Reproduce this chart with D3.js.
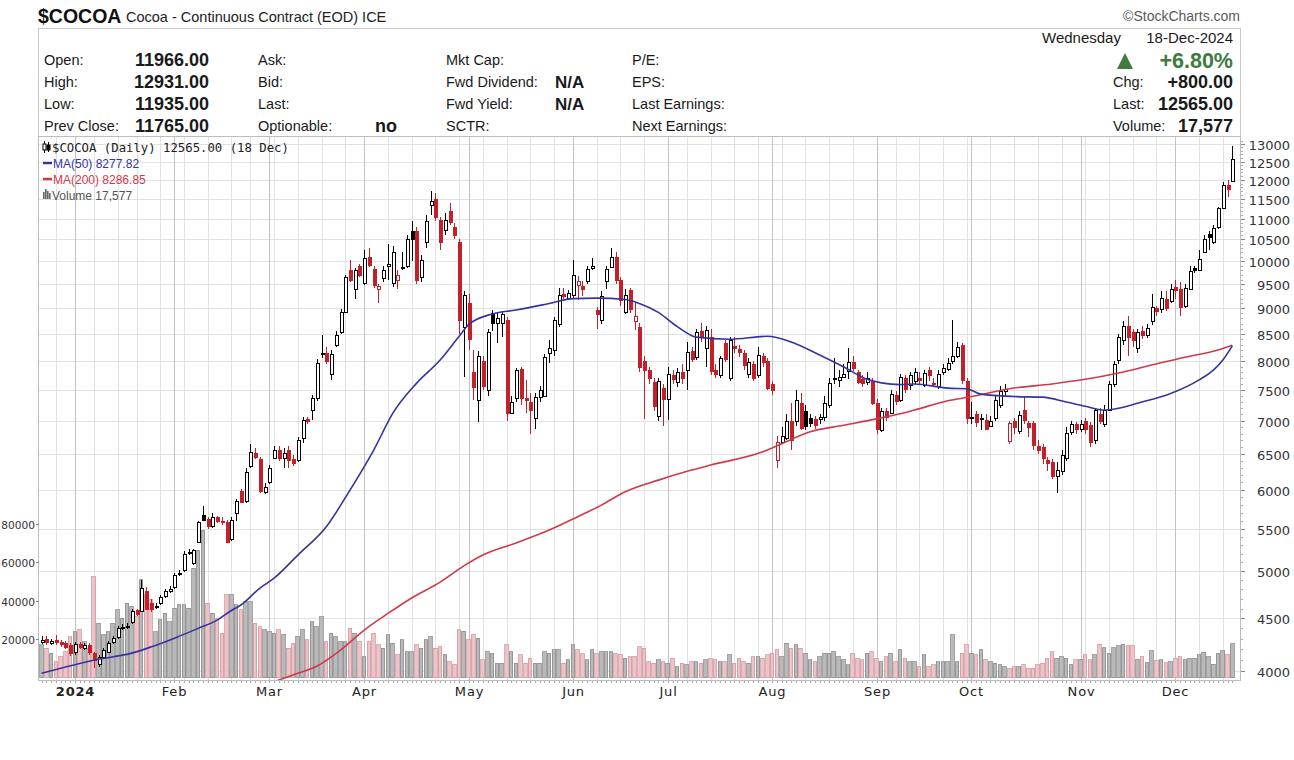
<!DOCTYPE html>
<html><head><meta charset="utf-8">
<script src="https://cdn.jsdelivr.net/npm/d3@7"></script>
<style>body{margin:0;background:#fff;}svg{display:block;}</style>
</head><body>
<svg id="chart" width="1294" height="760"></svg>
<script>
// ---- DATA ----
const opens = [4270,4300,4255,4290,4270,4260,4240,4170,4250,4210,
4240,4160,4060,4130,4170,4270,4320,4400,4410,4460,
4580,4570,4780,4660,4620,4660,4730,4780,4830,4970,
5010,5210,5090,5340,5670,5620,5530,5640,5600,5580,
5370,5700,5980,5850,6320,6520,6420,5970,6100,6440,
6560,6440,6560,6420,6410,6740,7030,7170,7360,8120,
8150,7780,8300,8540,8930,9800,9400,9900,9520,10100,
9830,9400,9630,9900,9530,9590,9850,9900,10700,10700,
9650,10440,11330,11500,10980,10720,11200,10800,10440,8630,
9100,7800,7330,8000,7500,8900,8720,8720,8770,7130,
7370,7860,7360,7300,7040,7380,7400,8140,8200,8700,
9300,9220,9270,9480,9470,9560,9850,8970,8770,9560,
9870,10100,9600,8930,9380,8750,8640,8000,7840,7640,
7080,7530,7350,7750,7630,7800,7840,8180,8070,8560,
8230,8450,7850,7760,8330,7700,8280,8220,8150,7780,
7950,7750,8100,8000,7600,6410,6680,6740,6990,6990,
7280,7150,7050,7030,7030,7060,7250,7700,7660,7720,
7820,7980,7800,7680,7630,7650,7280,6860,7150,7130,
7420,7330,7700,7580,7650,7700,7580,7850,7620,7560,
7800,7860,8000,8100,8300,7650,7050,7100,7040,7020,
6920,7040,7250,7480,6690,7000,6840,7170,6970,6970,
6620,6600,6410,6390,6190,6250,6440,6830,6950,6870,
6990,6930,6700,7100,6950,7170,7600,8020,8380,8650,
8530,8230,8560,8480,8750,9000,8980,9200,9150,9450,
9400,9050,9400,9850,9800,10220,10620,10450,10800,11270,
11850,11966];
const highs = [4330,4330,4300,4340,4290,4280,4260,4270,4270,4260,
4260,4170,4150,4210,4280,4330,4420,4440,4450,4590,
4600,4900,4830,4700,4660,4740,4800,4840,4980,5010,
5230,5260,5260,5600,5780,5650,5690,5660,5640,5610,
5640,5880,6010,6300,6640,6580,6460,6090,6340,6620,
6620,6580,6620,6480,6750,7060,7060,7420,8030,8480,
8250,8200,8560,8980,9700,10030,9850,9950,10250,10300,
9900,9500,9900,10400,10350,9800,10200,10600,10950,10800,
10150,11100,11700,11650,11050,11150,11400,10900,10500,9350,
9300,8200,8180,8100,8600,8960,8900,8950,8820,7400,
7880,7900,7670,7450,7450,7560,8120,8380,8820,9420,
9420,9380,10030,9680,9560,9900,10070,9030,9350,9900,
10300,10200,9650,9400,9420,9100,8720,8100,7900,7700,
7700,7600,7900,7850,7870,7950,8350,8250,8600,8720,
8650,8600,7950,8100,8380,8450,8450,8300,8200,8050,
8000,8250,8150,8050,7650,6760,6900,7100,7280,7500,
7450,7250,7100,7080,7100,7400,7700,8050,7850,7950,
8230,8100,7850,7750,7800,7700,7350,7200,7200,7500,
7480,7780,7750,7800,7870,7800,7850,7900,7700,7850,
7950,8050,8770,8350,8330,7700,7300,7150,7100,7100,
7080,7400,7560,7600,7000,7050,7150,7380,7000,7000,
6700,6650,6450,6420,6390,6550,6900,7000,6980,7020,
7050,6980,7200,7200,7250,7650,8000,8500,8750,8850,
8600,8600,8650,8700,9300,9050,9350,9350,9500,9600,
9550,9500,9900,9900,10250,10600,10700,10850,11300,11950,
12000,12931];
const lows = [4250,4240,4240,4240,4220,4200,4140,4150,4200,4190,
4150,4030,4040,4110,4160,4250,4300,4380,4390,4440,
4520,4560,4580,4560,4590,4640,4710,4760,4810,4950,
4990,5190,5070,5320,5590,5490,5510,5570,5540,5320,
5350,5600,5820,5830,6300,6420,5960,5940,6080,6420,
6400,6300,6300,6330,6380,6660,6950,7020,7320,8050,
7950,7660,8250,8500,8900,9550,9200,9650,9480,9880,
9420,9100,9550,9590,9450,9400,9800,9850,10000,9500,
9550,10300,11100,10950,10250,10600,10850,10500,8500,7720,
8200,7330,6980,7500,7400,8560,8330,8450,6990,7100,
7300,7250,7120,6800,6880,7300,7380,7960,8100,8630,
9200,9180,9220,9180,9250,9500,9800,8590,8700,9400,
9850,9500,9050,8880,8900,8580,7800,7030,7600,7150,
7000,6920,7020,7600,7550,7600,7500,7980,8020,8350,
7900,7760,7700,7700,7980,7650,8150,8080,7850,7700,
7650,7700,7900,7500,7420,6300,6650,6700,6560,6920,
6850,6850,6900,6870,6950,7000,7200,7600,7550,7700,
7680,7820,7600,7550,7580,7250,6800,6820,7000,7100,
7250,7300,7450,7500,7600,7600,7550,7650,7550,7520,
7750,7820,7950,8050,7600,6950,6950,6900,6850,6850,
6900,7000,7200,7400,6650,6800,6800,6950,6750,6550,
6500,6350,6250,6150,5960,6200,6400,6780,6800,6820,
6800,6600,6650,6950,6900,7150,7550,7950,8300,8100,
8250,8150,8400,8420,8680,8850,8900,8950,9100,9200,
8850,9000,9380,9750,9780,10180,10250,10400,10750,11250,
11550,11935];
const closes = [4290,4265,4280,4270,4250,4225,4160,4250,4225,4235,
4170,4100,4130,4190,4260,4310,4400,4415,4420,4570,
4545,4820,4600,4590,4630,4720,4780,4810,4960,4980,
5200,5225,5240,5580,5610,5530,5640,5600,5580,5340,
5610,5850,5840,6240,6530,6450,5980,6040,6300,6560,
6440,6510,6410,6370,6700,7010,7000,7360,7970,8150,
8000,8130,8490,8930,9650,9590,9800,9700,10080,9920,
9480,9460,9800,9950,10200,9700,9880,10500,10520,9600,
10030,10950,11450,11050,10450,10960,10920,10600,8770,9270,
8400,7550,8090,7560,8540,8720,8800,8880,7120,7300,
7840,7370,7330,7170,7380,7500,8070,8230,8770,9270,
9250,9310,9700,9560,9400,9830,9900,8880,9260,9840,
10100,9600,9180,9270,8980,8850,7900,7840,7700,7230,
7650,7350,7780,7680,7810,7700,8160,8030,8540,8460,
8570,7820,7780,8050,8030,8380,8240,8160,7930,7980,
7700,8110,7990,7540,7500,6670,6760,6990,6710,7330,
6890,6920,6970,6940,7060,7280,7610,7680,7720,7770,
7990,7880,7640,7620,7700,7280,6880,7150,7060,7440,
7320,7720,7520,7750,7800,7660,7790,7750,7600,7780,
7880,7960,8100,8260,7670,7050,7060,6980,7050,6880,
7000,7330,7480,7510,6970,6900,7090,7020,6900,6630,
6560,6440,6370,6190,6270,6490,6810,6950,6880,6950,
6870,6680,7170,7000,7170,7600,7950,8440,8650,8450,
8380,8530,8480,8610,9020,8950,9220,9000,9400,9380,
9030,9420,9780,9800,10060,10520,10550,10780,11270,11850,
11765,12565];
const volumes = [16900,15200,12600,8200,10800,13400,21200,23800,24700,18600,
15200,52400,28200,22100,23800,28200,35100,30700,38500,36800,
31600,50700,42900,40300,23800,29900,33300,29000,35900,37700,
37700,35900,56700,66200,76600,38500,33300,30700,23000,42900,
42900,37700,35100,39400,39400,28200,26400,24700,23800,23000,
24700,22100,15200,17800,21200,24700,19500,29000,26400,31600,
18600,23000,21200,18600,18600,25600,23000,18600,10800,18600,
23000,16900,15200,22100,17800,11700,19500,13400,13400,16900,
15200,19500,21200,15200,16000,11700,8200,6500,24700,24000,
19500,22100,20500,9100,13400,12500,7500,7500,16900,13400,
7500,11700,7500,10000,7500,7500,13400,12500,14300,14300,
7500,9100,16900,14300,12500,9100,14300,12500,13400,13400,
13400,12500,11700,10000,10800,10800,16000,15200,8200,7500,
9100,8200,7400,10000,5600,7400,6500,8200,8200,7400,
9100,10000,9100,8200,8200,11700,7400,10000,8200,7400,
10800,10800,10000,11700,12600,14300,10800,17800,15200,16900,
15200,12600,9100,8200,10800,12600,12600,13400,10800,9100,
6500,12600,10000,9100,12600,13400,10000,8200,10800,12600,
8200,14300,10000,8200,8200,5600,11700,5600,6500,8200,
8200,8200,22100,8200,12600,16900,12600,11700,14300,9100,
8200,7400,6500,5600,4800,5600,5600,6500,4800,4800,
6500,7400,10000,13400,10000,10800,10000,6500,9100,9100,
11700,9100,11700,17200,15500,12600,15500,16400,17200,16400,
16400,9100,10800,7700,13800,8600,9100,7700,8200,10000,
10800,9100,10000,10000,11700,13100,10800,6900,12600,14000,
11700,17577];
const ma50Idx = [0,12,19,23,28,33,37,40,42,46,49,54,60,65,70,74,79,84,88,90,95,100,107,112,117,123,126,130,134,138,145,153,158,164,169,174,177,181,184,191,195,198,205,211,216,220,224,227,231,238,244,247,249,251];
const ma50Val = [3980,4107,4163,4220,4305,4400,4482,4580,4636,4815,4923,5184,5523,5995,6556,7117,7611,8018,8456,8680,8890,8967,9100,9200,9210,9180,9100,8920,8640,8440,8400,8456,8350,8110,7900,7680,7620,7590,7600,7530,7520,7430,7390,7380,7300,7230,7170,7200,7280,7440,7670,7840,8020,8278];
const ma200Idx = [49,54,58,63,68,73,78,84,89,93,100,107,113,118,123,130,137,141,152,156,162,169,176,181,184,191,196,204,213,220,227,234,241,248,251];
const ma200Val = [3905,3980,4043,4191,4384,4550,4710,4880,5060,5184,5326,5482,5648,5797,5972,6130,6269,6340,6530,6650,6830,6930,7030,7110,7170,7320,7390,7520,7600,7680,7790,7930,8070,8200,8287];
const monthStarts = [7,28,48,68,90,112,132,154,176,196,219,239];
const monthLabels = ["2024","Feb","Mar","Apr","May","Jun","Jul","Aug","Sep","Oct","Nov","Dec"];
const weekStarts = [3,7,11,16,20,25,30,35,40,44,49,54,59,64,68,73,78,83,88,93,98,103,108,112,117,122,127,132,136,141,146,151,156,161,166,171,176,180,185,190,195,200,205,210,215,220,225,230,235,239,244,249];
const priceTicks = [4000,4500,5000,5500,6000,6500,7000,7500,8000,8500,9000,9500,10000,10500,11000,11500,12000,12500,13000];
const volumeTicks = [20000,40000,60000,80000];

// ---- LAYOUT ----
const svg = d3.select("#chart");
const L = 38.5, R = 1240.5, T = 136.5, B = 680.5;
const SANS = "'Liberation Sans', Arial, sans-serif";
const DV = "'DejaVu Sans', Verdana, sans-serif";
const MONO = "'DejaVu Sans Mono', 'Liberation Mono', monospace";
const RED = "#c4202a", BLUE = "#34349e", MARED = "#cf3a4a";

const n = closes.length;
const x = d3.scaleBand().domain(d3.range(n)).range([39.3, 1234.7]);
const cx = i => x(i) + x.bandwidth() / 2;
const y = d3.scaleLog().domain([4000, 13000]).range([671, 144]);
const yv = d3.scaleLinear().domain([0, 80000]).range([677.5, 523.5]);

svg.append("defs").append("clipPath").attr("id", "clip")
  .append("rect").attr("x", L).attr("y", T).attr("width", R - L).attr("height", B - T);

function txt(x0, y0, s, o = {}) {
  return svg.append("text").attr("x", x0).attr("y", y0)
    .attr("font-family", o.f || SANS).attr("font-size", o.s || 14.5)
    .attr("font-weight", o.w || "normal").attr("fill", o.c || "#1a1a1a")
    .attr("text-anchor", o.a || "start").attr("letter-spacing", o.ls || 0).text(s);
}

// ---- TITLE ----
txt(38, 23, "$COCOA", { s: 19.5, w: "bold", c: "#111" });
txt(126, 22, "Cocoa - Continuous Contract (EOD) ICE", { s: 14.5, c: "#222" });
txt(1240, 21, "©StockCharts.com", { s: 14, c: "#5a5a5a", a: "end" });

// ---- HEADER BOX ----
svg.append("rect").attr("x", L).attr("y", 28.5).attr("width", R - L).attr("height", T - 28.5)
  .attr("fill", "#fff").attr("stroke", "#c9c9c9");
const rowsY = [65, 87, 109, 131];
const c1 = [["Open:", "11966.00"], ["High:", "12931.00"], ["Low:", "11935.00"], ["Prev Close:", "11765.00"]];
c1.forEach((d, k) => { txt(44, rowsY[k], d[0]); txt(209, rowsY[k] + 1, d[1], { s: 18, w: "bold", a: "end" }); });
["Ask:", "Bid:", "Last:", "Optionable:"].forEach((d, k) => txt(258, rowsY[k], d));
txt(375, rowsY[3] + 1, "no", { s: 18, w: "bold" });
["Mkt Cap:", "Fwd Dividend:", "Fwd Yield:", "SCTR:"].forEach((d, k) => txt(446, rowsY[k], d));
txt(555, rowsY[1] + 1, "N/A", { s: 17, w: "bold" });
txt(555, rowsY[2] + 1, "N/A", { s: 17, w: "bold" });
["P/E:", "EPS:", "Last Earnings:", "Next Earnings:"].forEach((d, k) => txt(632, rowsY[k], d));
txt(1042, 43, "Wednesday", { s: 15 });
txt(1233, 43, "18-Dec-2024", { s: 15, a: "end" });
svg.append("path").attr("d", "M1117,69 L1133,69 L1125,53 Z").attr("fill", "#3f7a3f");
txt(1233, 68, "+6.80%", { s: 21.5, w: "bold", c: "#3f7a3f", a: "end" });
[["Chg:", "+800.00"], ["Last:", "12565.00"], ["Volume:", "17,577"]].forEach((d, k) => {
  txt(1113, rowsY[k + 1], d[0]);
  txt(1233, rowsY[k + 1] + 1, d[1], { s: 18, w: "bold", a: "end" });
});

// ---- GRID ----
const gG = svg.append("g").attr("shape-rendering", "crispEdges");
priceTicks.forEach(p => {
  const yy = Math.round(y(p)) + 0.5;
  gG.append("line").attr("x1", L).attr("x2", R).attr("y1", yy).attr("y2", yy).attr("stroke", "#e2e2e2");
});
weekStarts.forEach(i => {
  const xx = Math.round(cx(i)) + 0.5;
  gG.append("line").attr("x1", xx).attr("x2", xx).attr("y1", T).attr("y2", B).attr("stroke", "#e2e2e2");
});
monthStarts.forEach(i => {
  const xx = Math.round(cx(i)) + 0.5;
  gG.append("line").attr("x1", xx).attr("x2", xx).attr("y1", T).attr("y2", B).attr("stroke", "#c2c2c2");
});

// ---- VOLUME ----
const gV = svg.append("g").attr("clip-path", "url(#clip)").attr("shape-rendering", "crispEdges");
volumes.forEach((v, i) => {
  const up = i === 0 ? true : closes[i] >= closes[i - 1];
  gV.append("rect").attr("x", x(i) + 0.5).attr("y", yv(v))
    .attr("width", x.bandwidth() - 1.2).attr("height", yv(0) - yv(v))
    .attr("fill", up ? "#b9b9b9" : "#ecc3c7").attr("stroke", up ? "#8e8e8e" : "#d39aa2").attr("stroke-width", 0.8);
});

// ---- CANDLES ----
const gC = svg.append("g").attr("clip-path", "url(#clip)");
closes.forEach((c, i) => {
  const o = opens[i], h = highs[i], l = lows[i];
  const up = i === 0 ? true : c >= closes[i - 1];
  const col = up ? "#000" : RED;
  const px = Math.round(cx(i));
  gC.append("line").attr("x1", px + 0.5).attr("x2", px + 0.5).attr("y1", y(h)).attr("y2", y(l))
    .attr("stroke", col).attr("stroke-width", 1).attr("shape-rendering", "crispEdges");
  const yt = Math.round(y(Math.max(o, c))), yb = Math.round(y(Math.min(o, c)));
  gC.append("rect").attr("x", px - 1).attr("y", yt).attr("width", 3).attr("height", Math.max(1, yb - yt))
    .attr("fill", c >= o ? "#fff" : col).attr("stroke", col).attr("stroke-width", 1)
    .attr("shape-rendering", "crispEdges");
});

// ---- MOVING AVERAGES ----
const line = d3.line().x(d => cx(d[0])).y(d => y(d[1])).curve(d3.curveMonotoneX);
const gM = svg.append("g").attr("clip-path", "url(#clip)");
gM.append("path").attr("d", line(ma200Idx.map((d, k) => [d, ma200Val[k]])))
  .attr("fill", "none").attr("stroke", MARED).attr("stroke-width", 1.6);
gM.append("path").attr("d", line(ma50Idx.map((d, k) => [d, ma50Val[k]])))
  .attr("fill", "none").attr("stroke", BLUE).attr("stroke-width", 1.6);

// ---- FRAME & AXES ----
svg.append("rect").attr("x", L).attr("y", T).attr("width", R - L).attr("height", B - T)
  .attr("fill", "none").attr("stroke", "#bdbdbd").attr("shape-rendering", "crispEdges");
const gA = svg.append("g").attr("shape-rendering", "crispEdges");
priceTicks.forEach(p => {
  const yy = Math.round(y(p)) + 0.5;
  gA.append("line").attr("x1", R).attr("x2", R + 4).attr("y1", yy).attr("y2", yy).attr("stroke", "#888");
  txt(1290, yy + 5, String(p), { f: DV, s: 13, c: "#333", a: "end" });
});
d3.range(3900, 13101, 100).forEach(p => {
  if (priceTicks.includes(p)) return;
  const yy = Math.round(y(p)) + 0.5;
  if (yy < T || yy > B) return;
  gA.append("line").attr("x1", R).attr("x2", R + 2).attr("y1", yy).attr("y2", yy).attr("stroke", "#aaa");
});
volumeTicks.forEach(v => {
  const yy = Math.round(yv(v)) + 0.5;
  gA.append("line").attr("x1", L - 3).attr("x2", L).attr("y1", yy).attr("y2", yy).attr("stroke", "#888");
  txt(35, yy + 4, String(v), { f: DV, s: 10.6, c: "#333", a: "end" });
});
closes.forEach((c, i) => {
  const xx = Math.round(cx(i)) + 0.5;
  gA.append("line").attr("x1", xx).attr("x2", xx).attr("y1", B).attr("y2", B + 2).attr("stroke", "#aaa");
});
monthStarts.forEach((i, k) => {
  txt(Math.round(cx(i)) + 0.5, 696, monthLabels[k], { f: DV, s: 13, c: "#222", a: "middle", ls: 0.8, w: k === 0 ? "bold" : "normal" });
});

// ---- LEGEND ----
const gL = svg.append("g");
gL.append("line").attr("x1", 44.5).attr("x2", 44.5).attr("y1", 141).attr("y2", 153).attr("stroke", "#000");
gL.append("rect").attr("x", 43).attr("y", 144).attr("width", 3).attr("height", 6).attr("fill", "#fff").attr("stroke", "#000");
gL.append("line").attr("x1", 48.5).attr("x2", 48.5).attr("y1", 142).attr("y2", 152).attr("stroke", "#000");
gL.append("rect").attr("x", 47).attr("y", 145).attr("width", 3).attr("height", 5).attr("fill", "#000").attr("stroke", "#000");
txt(52, 152, "$COCOA (Daily) 12565.00 (18 Dec)", { f: MONO, s: 12.3, c: "#222" });
gL.append("line").attr("x1", 43).attr("x2", 52).attr("y1", 163).attr("y2", 163).attr("stroke", BLUE).attr("stroke-width", 2.5);
txt(53, 167.5, "MA(50) 8277.82", { s: 12, c: BLUE });
gL.append("line").attr("x1", 43).attr("x2", 52).attr("y1", 179).attr("y2", 179).attr("stroke", MARED).attr("stroke-width", 2.5);
txt(53, 183.5, "MA(200) 8286.85", { s: 12, c: MARED });
[[43, 192], [45, 189], [47, 191], [49, 193]].forEach(d => {
  gL.append("rect").attr("x", d[0]).attr("y", d[1]).attr("width", 1.6).attr("height", 199 - d[1]).attr("fill", "#666");
});
txt(52, 199.5, "Volume 17,577", { s: 12, c: "#555" });
</script>
</body></html>
